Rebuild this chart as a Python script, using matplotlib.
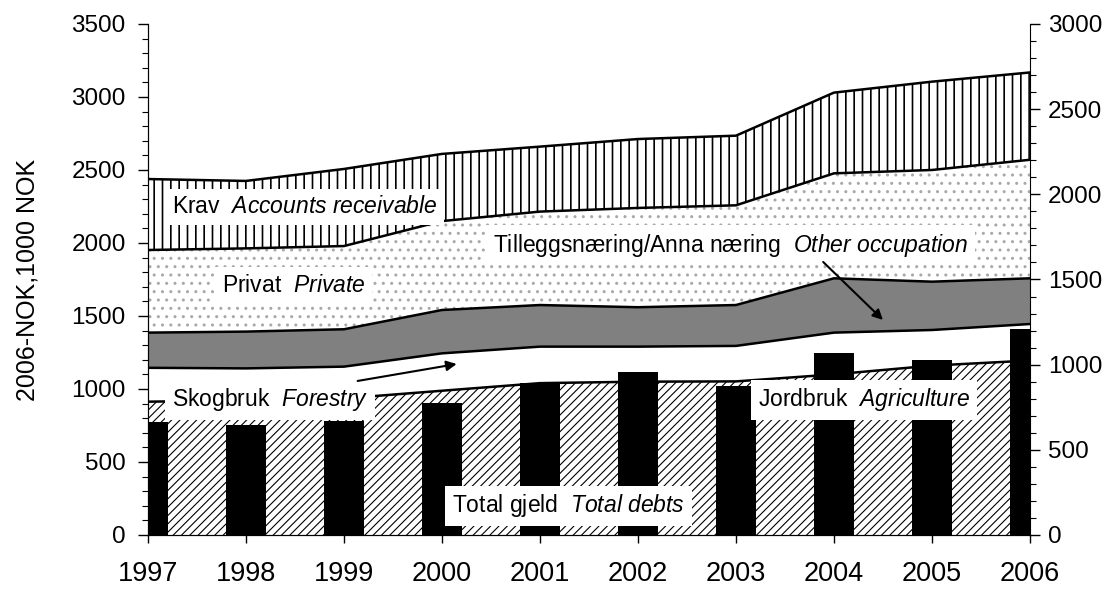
import numpy as np
import matplotlib
matplotlib.use("Agg")
import matplotlib.pyplot as plt
from matplotlib.ticker import MultipleLocator

plt.rcParams['font.family'] = 'Liberation Sans'
plt.rcParams['mathtext.fontset'] = 'custom'
plt.rcParams['mathtext.rm'] = 'Liberation Sans'
plt.rcParams['mathtext.it'] = 'Liberation Sans:italic'

# values, 2006-NOK 1000
years = np.arange(1997, 2007)
agriculture = [913, 922, 935, 988, 1040, 1050, 1052, 1100, 1160, 1195]
forestry = [232, 219, 218, 256, 250, 240, 243, 286, 244, 250]
other_occupation = [241, 252, 256, 297, 285, 270, 280, 372, 331, 313]
private = [566, 570, 570, 609, 640, 680, 683, 719, 765, 812]
receivable = [486, 462, 528, 460, 445, 472, 477, 553, 605, 598]
# right axis
total_debts = [665, 646, 668, 777, 891, 958, 877, 1071, 1026, 1208]

layers = [agriculture, forestry, other_occupation, private, receivable]
tops = np.cumsum(layers, axis=0)
bottoms = np.vstack([np.zeros(len(years)), tops[:-1]])

fig = plt.figure(figsize=(11.2, 5.91), dpi=100)
ax = fig.add_axes([0.1321, 0.0948, 0.7875, 0.8646])

# facecolor, hatch colour, hatch, hatch linewidth
styles = [('white', 'black', '////', 0.8),
          ('white', 'white', None, 1.0),
          ('#808080', '#808080', None, 1.0),
          ('white', '#a8a8a8', '..', 1.0),
          ('white', 'black', '||', 1.2)]

for lo, hi, (fc, hc, h, hlw) in zip(bottoms, tops, styles):
    with plt.rc_context({'hatch.linewidth': hlw}):
        ax.fill_between(years, lo, hi, facecolor=fc, edgecolor=hc,
                        hatch=h, linewidth=0)
    ax.plot(years, hi, color='black', lw=1.8)

ax.set_xlim(1997, 2006)
ax.set_ylim(0, 3500)
ax.set_xticks(years)
ax.yaxis.set_major_locator(MultipleLocator(500))
ax.yaxis.set_minor_locator(MultipleLocator(100))
ax.tick_params(axis='y', which='major', length=7, width=1, labelsize=17.5, pad=9)
ax.tick_params(axis='y', which='minor', length=4, width=0.8)
ax.tick_params(axis='x', which='major', length=6, width=1, labelsize=19.5, pad=13)
ax.set_ylabel('2006-NOK,1000 NOK', fontsize=18)
ax.yaxis.set_label_coords(-0.123, 0.5)
for s in ['top', 'right']:
    ax.spines[s].set_visible(False)

# total debts on the secondary axis
ax2 = ax.twinx()
ax2.bar(years, total_debts, width=0.4, color='black')
ax2.set_ylim(0, 3000)
ax2.yaxis.set_major_locator(MultipleLocator(500))
ax2.yaxis.set_minor_locator(MultipleLocator(100))
ax2.tick_params(axis='y', which='major', length=7, width=1, labelsize=17.5, pad=6)
ax2.tick_params(axis='y', which='minor', length=4, width=0.8)
ax2.spines['top'].set_visible(False)

box = dict(boxstyle='square,pad=0.3', fc='white', ec='none')
labels = [
    (1997.245, 2247, 'Krav  $\\mathit{Accounts\\ receivable}$'),
    (1997.755, 1712, 'Privat  $\\mathit{Private}$'),
    (2000.52, 1986, 'Tilleggsnæring/Anna næring  $\\mathit{Other\\ occupation}$'),
    (1997.245, 925, 'Skogbruk  $\\mathit{Forestry}$'),
    (2003.22, 925, 'Jordbruk  $\\mathit{Agriculture}$'),
    (2000.10, 199, 'Total gjeld  $\\mathit{Total\\ debts}$'),
]
for x, y, s in labels:
    ax2.text(x, y, s, transform=ax.transData, fontsize=16.5,
             ha='left', va='center', bbox=box)

arrow = dict(arrowstyle='-|>', color='black', lw=1.5, mutation_scale=15,
             shrinkA=0, shrinkB=0)
ax2.annotate('', xy=(2000.15, 1171), xytext=(1999.14, 1055),
             xycoords=ax.transData, textcoords=ax.transData, arrowprops=arrow)
ax2.annotate('', xy=(2004.5, 1473), xytext=(2003.89, 1870),
             xycoords=ax.transData, textcoords=ax.transData, arrowprops=arrow)

fig.savefig('out.png', dpi=100)
